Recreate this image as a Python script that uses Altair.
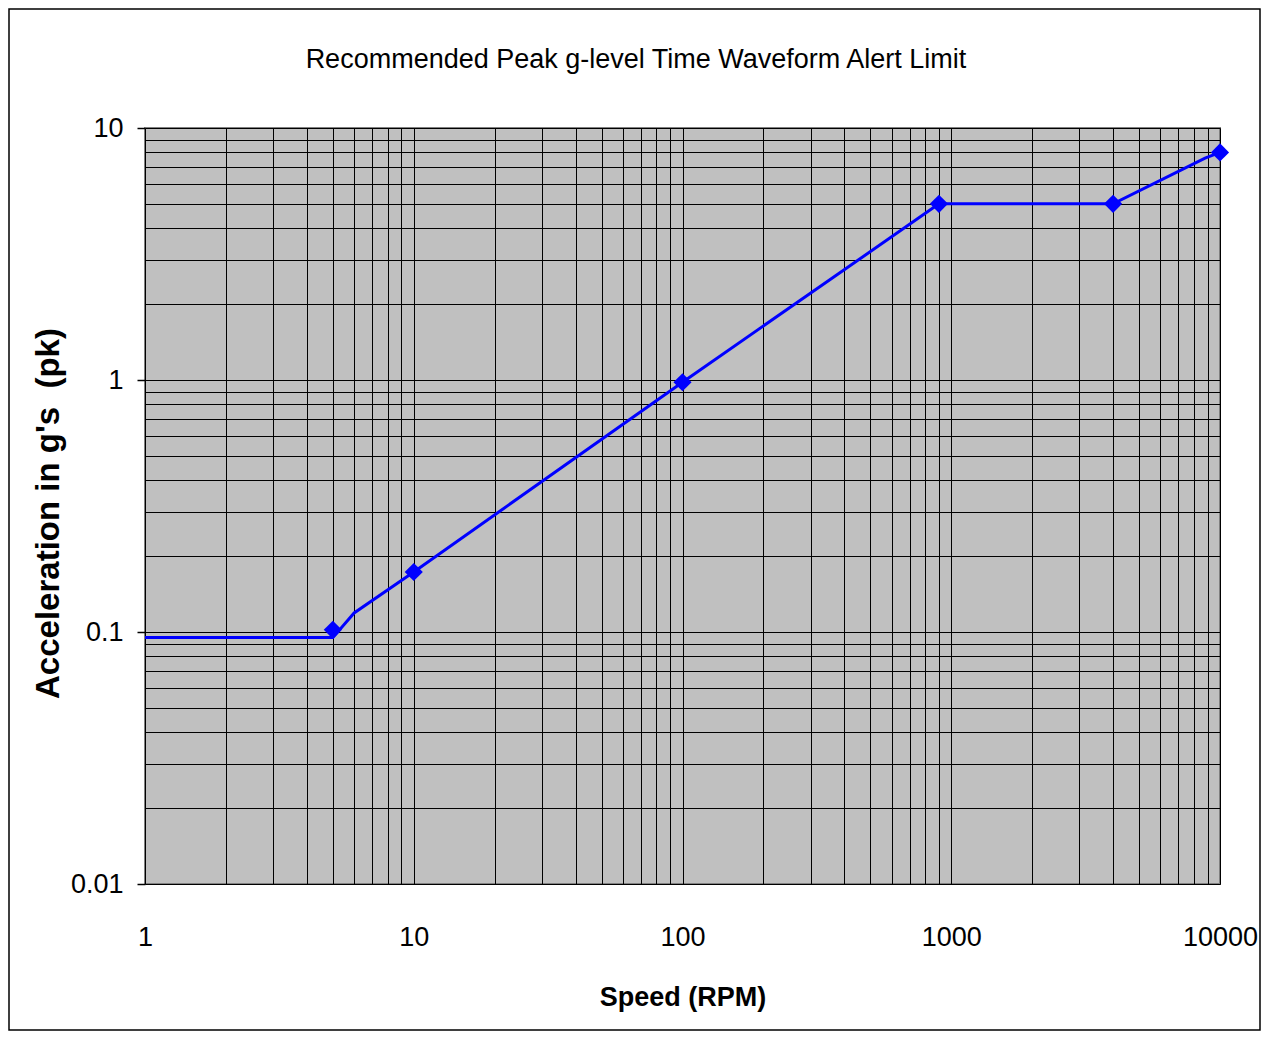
import altair as alt
import pandas as pd

# Line path (Speed RPM, g's pk)
line_rpm = [1, 5, 6, 10, 100, 900, 4000, 8800, 10000]
line_g = [0.095, 0.095, 0.119, 0.173, 0.98, 5.0, 5.0, 7.6, 8.0]

# Marker points
pt_rpm = [5, 10, 100, 900, 4000, 10000]
pt_g = [0.102, 0.173, 0.98, 5.0, 5.0, 8.0]

title_text = ["Recommended Peak g-level Time Waveform Alert Limit"]

x_grid = [round(m * 10 ** k, 6) for k in range(0, 4) for m in range(1, 10)] + [10000]
y_grid = [round(m * 10 ** k, 6) for k in range(-2, 1) for m in range(1, 10)] + [10]

line_df = pd.DataFrame({"rpm": line_rpm, "g": line_g})
pt_df = pd.DataFrame({"rpm": pt_rpm, "g": pt_g})
title_df = pd.DataFrame({"t": title_text})

major = "abs(log(datum.value)/LN10 - round(log(datum.value)/LN10)) < 1e-6"
lab = f"{major} ? format(datum.value, '~g') : ''"

FONT = "Liberation Sans"

xscale = alt.Scale(type="log", domain=[1, 10000], nice=False)
yscale = alt.Scale(type="log", domain=[0.01, 10], nice=False)

xaxis = alt.Axis(
    values=x_grid, labelExpr=lab, labelOverlap=False, labelFlush=False,
    ticks=False, domain=False, grid=True, gridColor="#000000",
    gridWidth=1, gridOpacity=1,
    labelFont=FONT, labelFontSize=27, labelColor="#000000", labelPadding=40,
    title="Speed (RPM)", titleFont=FONT, titleFontSize=27, titleFontWeight="bold",
    titleColor="#000000", titleY=113, titleBaseline="middle",
)
yaxis = alt.Axis(
    values=y_grid, labelExpr=lab, labelOverlap=False, labelFlush=False,
    ticks=True, tickSize=8, tickColor="#000000", tickWidth=1.5,
    tickOpacity={"condition": {"test": major, "value": 1}, "value": 0},
    domain=False, grid=True, gridColor="#000000",
    gridWidth=1, gridOpacity=1,
    labelFont=FONT, labelFontSize=27, labelColor="#000000", labelPadding=14,
    title="Acceleration in g's\u00a0\u00a0(pk)", titleFont=FONT, titleFontSize=33,
    titleFontWeight="bold", titleColor="#000000", titleX=-97, titleY=385,
    titleBaseline="middle",
)

frame = alt.Chart(alt.Data(values=[{}])).mark_rect(
    fill=None, stroke="#000000", strokeWidth=1.5
).encode(
    x=alt.value(-136), x2=alt.value(1115), y=alt.value(-119), y2=alt.value(902)
)

title = alt.Chart(title_df).mark_text(
    font=FONT, fontSize=27, color="#000000", align="center", baseline="middle"
).encode(
    text="t:N", x=alt.value(491), y=alt.value(-68)
)

line = alt.Chart(line_df).mark_line(color="#0000FF", strokeWidth=3).encode(
    x=alt.X("rpm:Q", scale=xscale, axis=xaxis),
    y=alt.Y("g:Q", scale=yscale, axis=yaxis),
)

pts = alt.Chart(pt_df).mark_point(
    shape="diamond", filled=True, color="#0000FF", size=330, opacity=1
).encode(
    x=alt.X("rpm:Q", scale=xscale),
    y=alt.Y("g:Q", scale=yscale),
)

chart = alt.layer(frame, title, line, pts).properties(
    width=1075, height=756,
    autosize=alt.AutoSizeParams(type="none"),
    padding={"left": 137, "top": 120, "right": 42, "bottom": 148},
    background="#FFFFFF",
).configure_view(
    fill="#C0C0C0", stroke="#808080", strokeWidth=2
)

chart.save("out.html", embed_options={"renderer": "svg", "actions": False})
